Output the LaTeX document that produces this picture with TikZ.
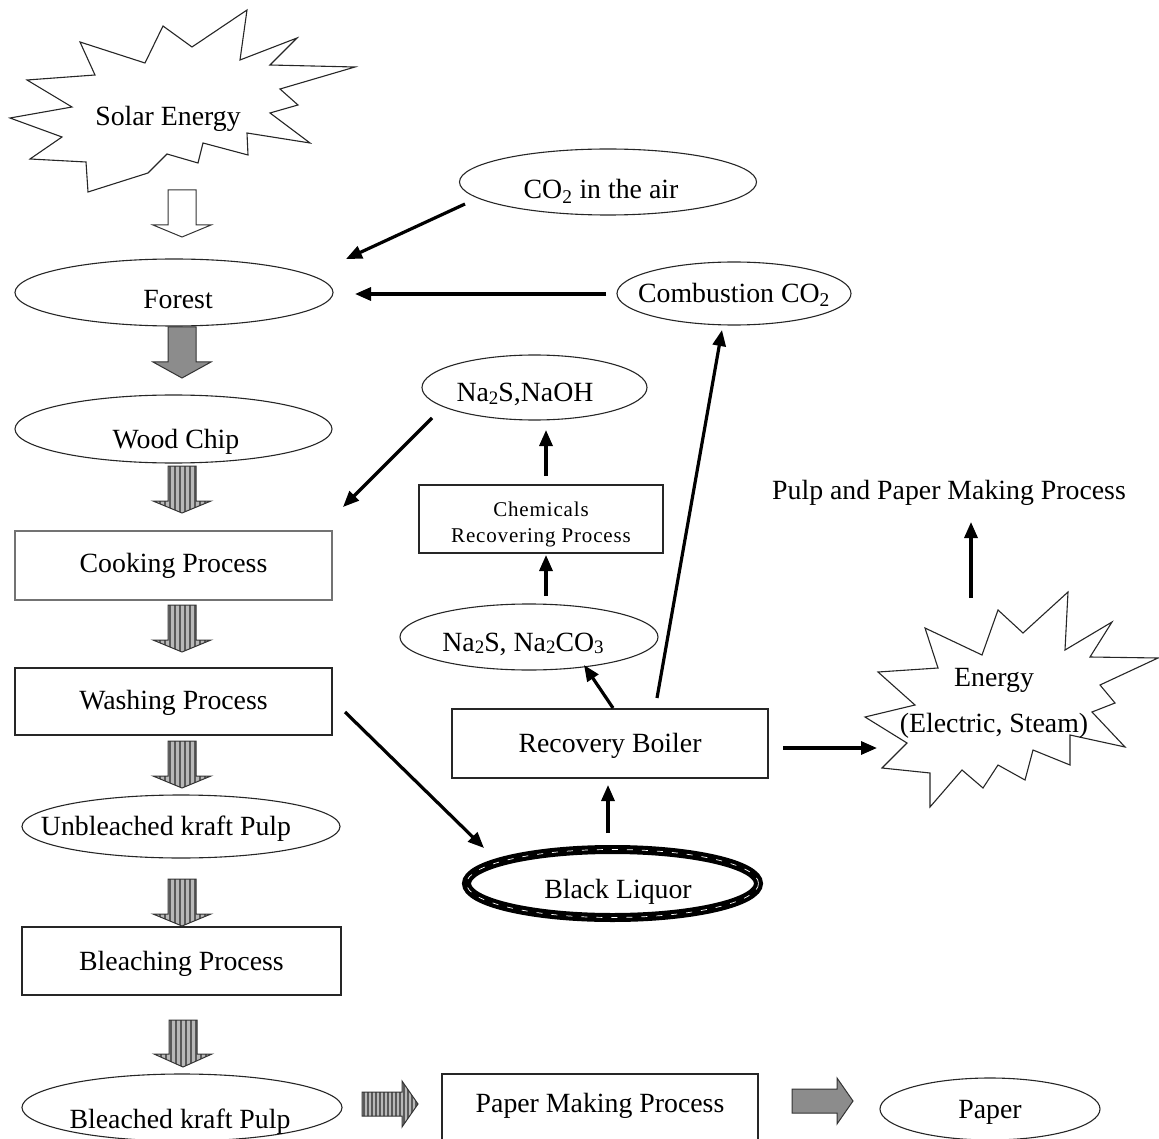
\documentclass[tikz,border=0pt]{standalone}
\usepackage{fontspec}
\setmainfont{Liberation Serif}
\usetikzlibrary{shapes.geometric,arrows.meta}

% small lowered digit used in the chemical formulas
\newcommand\nsub[1]{\raisebox{-0.08em}{\fontsize{19}{20}\selectfont #1}}

% outline of a broad downward arrow: x, top, head base, tip
\newcommand\downpath[4]{({#1-14},#2) -- ({#1+14},#2) -- ({#1+14},#3) -- ({#1+29},#3) -- (#1,#4) -- ({#1-29},#3) -- ({#1-14},#3) -- cycle}
% outline of a broad rightward arrow: y, left, head base, tip
\newcommand\rightpath[4]{(#2,{#1-12}) -- (#3,{#1-12}) -- (#3,{#1-23}) -- (#4,#1) -- (#3,{#1+23}) -- (#3,{#1+12}) -- (#2,{#1+12}) -- cycle}

% downward arrow filled with vertical stripes
\newcommand\stripeddown[4]{%
  \begin{scope}
    \clip \downpath{#1}{#2}{#3}{#4};
    \fill[stripebg] ({#1-30},#2) rectangle ({#1+30},#4);
    \foreach \k in {-27,-22,...,28}
      \draw[stripeline] ({#1+\k},#2) -- ({#1+\k},#4);
  \end{scope}
  \draw[blockedge] \downpath{#1}{#2}{#3}{#4};
}

\begin{document}
\begin{tikzpicture}[x=1pt,y=-1pt,
  every node/.style={font=\fontsize{27.8}{33}\selectfont},
  lbl/.style={inner sep=0pt, text height=18pt, text depth=0pt},
  oval/.style={ellipse, draw=black!85, line width=1.1pt, inner sep=0pt},
  box/.style={rectangle, draw=black!85, line width=1.1pt, inner sep=0pt},
  conn/.style={line width=3.2pt, -{Triangle[length=16pt,width=13pt]}},
  burst/.style={draw=black!85, line width=1.1pt, fill=white},
  blockedge/.style={draw=black!80, line width=1pt},
  hollow/.style={blockedge, fill=white},
  solidgray/.style={blockedge, fill=black!45},
  stripebg/.style={fill=black!28},
  stripeline/.style={draw=black!65, line width=1.3pt},
]
\useasboundingbox (0,0) rectangle (1159,1139);

% ---------- sun ----------
\draw[burst] (247,10) -- (240,60) -- (297,38) -- (270,65) -- (355,67) -- (280,89)
  -- (298,105) -- (270,113) -- (310,143) -- (247,133) -- (248,155) -- (203,143)
  -- (198,163) -- (167,154) -- (148,173) -- (88,192) -- (86,162) -- (30,159)
  -- (62,137) -- (10,118) -- (72,107) -- (27,80) -- (95,75) -- (80,42)
  -- (145,63) -- (163,26) -- (192,47) -- cycle;
\node[lbl] (solar) at (168,116.5) {Solar Energy};

% ---------- main process column ----------
\node[oval, minimum width=318pt, minimum height=67pt,
  label={[lbl,xshift=4pt,yshift=-7.5pt]center:Forest}] (forest) at (174,292.5) {};
\node[oval, minimum width=317pt, minimum height=68pt,
  label={[lbl,xshift=2.5pt,yshift=-10pt]center:Wood Chip}] (wood) at (173.5,429) {};
\node[box, draw=black!55, minimum width=317pt, minimum height=69pt,
  label={[lbl,yshift=2pt]center:Cooking Process}] (cook) at (173.5,565.5) {};
\node[box, minimum width=317pt, minimum height=67pt,
  label={[lbl,yshift=1pt]center:Washing Process}] (wash) at (173.5,701.5) {};
\node[oval, minimum width=318pt, minimum height=63pt,
  label={[lbl,xshift=-15pt]center:Unbleached kraft Pulp}] (unbl) at (181,826.5) {};
\node[box, minimum width=319pt, minimum height=68pt,
  label={[lbl]center:Bleaching Process}] (bleach) at (181.5,961) {};
\node[oval, minimum width=320pt, minimum height=67pt,
  label={[lbl,xshift=-2pt,yshift=-11.5pt]center:Bleached kraft Pulp}] (bleached) at (182,1107.5) {};
\node[box, minimum width=316pt, minimum height=71pt,
  label={[lbl,yshift=6.5pt]center:Paper Making Process}] (pm) at (600,1109.5) {};
\node[oval, minimum width=220pt, minimum height=62pt,
  label={[lbl]center:Paper}] (paper) at (990,1109) {};

% ---------- carbon and chemical cycle ----------
\node[oval, minimum width=297pt, minimum height=66pt,
  label={[lbl,xshift=-7pt,yshift=-8pt]center:CO\textsubscript{2} in the air}] (co2air) at (608,182) {};
\node[oval, minimum width=234pt, minimum height=63pt,
  label={[lbl]center:Combustion CO\textsubscript{2}}] (comb) at (734,293.5) {};
\node[oval, minimum width=225pt, minimum height=65pt,
  label={[lbl,xshift=-9.5pt,yshift=-5.5pt]center:Na\nsub{2}S,NaOH}] (naoh) at (534.5,387.5) {};
\node[box, minimum width=244pt, minimum height=68pt,
  label={[align=center, font=\fontsize{21}{26}\selectfont\addfontfeature{LetterSpace=4}, inner sep=0pt, yshift=-5pt]center:Chemicals\\Recovering Process}] (chem) at (541,519) {};
\node[oval, minimum width=258pt, minimum height=66pt,
  label={[lbl,xshift=-6pt,yshift=-5pt]center:Na\nsub{2}S, Na\nsub{2}CO\nsub{3}}] (naco) at (529,637) {};
\node[box, minimum width=316pt, minimum height=69pt,
  label={[lbl]center:Recovery Boiler}] (boiler) at (610,743.5) {};
\node[oval, draw=black, line width=9pt, minimum width=292pt, minimum height=68pt,
  postaction={draw=white, line width=0.7pt, dash pattern=on 6pt off 9pt},
  label={[lbl,xshift=5.5pt,yshift=-6pt]center:Black Liquor}] (liquor) at (612.5,883.5) {};

% ---------- energy ----------
\draw[burst] (1068,592) -- (1065,650) -- (1112,622) -- (1090,657) -- (1158,658)
  -- (1100,685) -- (1115,703) -- (1092,712) -- (1125,747) -- (1070,735)
  -- (1070,765) -- (1033,750) -- (1025,780) -- (998,765) -- (983,788)
  -- (962,770) -- (930,807) -- (930,773) -- (882,768) -- (907,743)
  -- (865,717) -- (915,705) -- (878,672) -- (938,668) -- (925,628)
  -- (982,655) -- (998,610) -- (1023,633) -- cycle;
\node[align=center, inner sep=0pt] (energy) at (994,703.5) {Energy\\[13pt](Electric, Steam)};
\node[lbl] (pulp) at (949,490) {Pulp and Paper Making Process};

% ---------- broad process arrows ----------
\draw[hollow] \downpath{182}{190}{225}{237};
\draw[solidgray] \downpath{182}{327}{362}{378};
\stripeddown{182}{466}{501}{513}
\stripeddown{182}{605}{640}{652}
\stripeddown{182}{741}{776}{788}
\stripeddown{182}{879}{914}{926}
\stripeddown{183}{1020}{1054}{1067}
\begin{scope}
  \clip \rightpath{1104}{362}{402}{418};
  \fill[stripebg] (362,1080) rectangle (418,1128);
  \foreach \k in {364,368,...,416}
    \draw[stripeline, line width=1.1pt] (\k,1080) -- (\k,1128);
\end{scope}
\draw[blockedge] \rightpath{1104}{362}{402}{418};
\draw[solidgray] \rightpath{1101}{792}{837}{853};

% ---------- connectors ----------
\coordinate (airA) at (465,204);   \coordinate (airB) at (346,259);
\coordinate (combA) at (606,294);  \coordinate (combB) at (355,294);
\coordinate (naohA) at (432,418);  \coordinate (naohB) at (343,507);
\coordinate (chemA) at (546,476);  \coordinate (chemB) at (546,430);
\coordinate (nacoA) at (546,596);  \coordinate (nacoB) at (546,555);
\coordinate (boilA) at (613,708);  \coordinate (boilB) at (584,665);
\coordinate (boilC) at (657,698);  \coordinate (boilD) at (722,330);
\coordinate (liqA) at (608,833);   \coordinate (liqB) at (608,785);
\coordinate (washA) at (345,712);  \coordinate (washB) at (484,848);
\coordinate (boilE) at (783,748);  \coordinate (boilF) at (877,748);
\coordinate (enA) at (971,598);    \coordinate (enB) at (971,522);

\draw[conn] (airA) -- (airB);
\draw[conn] (combA) -- (combB);
\draw[conn] (naohA) -- (naohB);
\draw[conn] (chemA) -- (chemB);
\draw[conn] (nacoA) -- (nacoB);
\draw[conn] (boilA) -- (boilB);
\draw[conn] (boilC) -- (boilD);
\draw[conn] (liqA) -- (liqB);
\draw[conn] (washA) -- (washB);
\draw[conn] (boilE) -- (boilF);
\draw[conn] (enA) -- (enB);
\end{tikzpicture}
\end{document}
